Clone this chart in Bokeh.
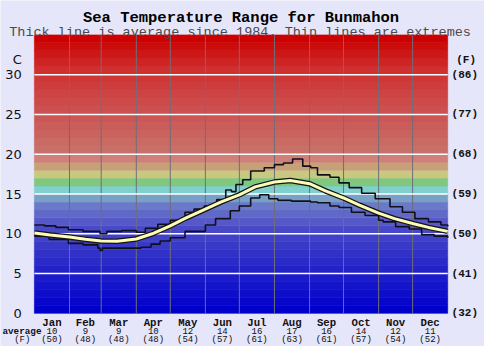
from bokeh.plotting import figure
from bokeh.models import Range1d
from bokeh.core.properties import value
from bokeh.embed import file_html
from bokeh.resources import INLINE

# ---------------- data ----------------
month_names = ["Jan", "Feb", "Mar", "Apr", "May", "Jun", "Jul", "Aug", "Sep", "Oct", "Nov", "Dec"]
month_avg_c = ["10", "9", "9", "10", "12", "14", "16", "17", "16", "14", "12", "11"]
month_avg_f = ["(50)", "(48)", "(48)", "(48)", "(54)", "(57)", "(61)", "(63)", "(61)", "(57)", "(54)", "(52)"]
month_starts = [0, 31, 59, 90, 120, 151, 181, 212, 243, 273, 304, 334, 365]

c_ticks = [0, 5, 10, 15, 20, 25, 30]
f_labels = ["(32)", "(41)", "(50)", "(59)", "(68)", "(77)", "(86)"]

avg_days = [0, 14, 31, 45, 59, 73, 90, 104, 120, 134, 151, 165, 181, 195, 212, 226,
            243, 257, 273, 287, 304, 318, 334, 348, 365]
avg_vals = [10.1, 9.85, 9.6, 9.3, 9.1, 9.05, 9.35, 10.0, 11.0, 12.0, 13.1, 14.0, 14.9, 15.9,
            16.5, 16.7, 16.3, 15.4, 14.5, 13.6, 12.6, 11.9, 11.3, 10.8, 10.3]

max_days = [0, 9, 19, 30, 43, 58, 64, 77, 90, 98, 109, 120, 133, 141, 150, 161, 169, 174,
            178, 184, 191, 203, 212, 220, 228, 237, 244, 250, 261, 269, 278, 289, 301, 314,
            325, 336, 348, 359, 365]
max_vals = [11.1, 11.0, 10.8, 10.5, 10.3, 10.0, 10.3, 10.4, 10.2, 10.7, 11.2, 11.7, 12.7, 13.1,
            13.5, 14.3, 15.5, 15.3, 16.2, 16.8, 17.9, 18.3, 18.7, 18.9, 19.4, 18.5, 18.3, 17.4,
            17.1, 16.4, 15.8, 15.1, 14.4, 13.4, 12.7, 11.9, 11.5, 11.1, 10.9]

min_days = [0, 13, 30, 43, 56, 58, 60, 64, 94, 103, 111, 120, 133, 151, 160, 173, 181, 191,
            199, 207, 215, 227, 244, 250, 261, 269, 280, 292, 304, 308, 319, 331, 342, 353, 365]
min_vals = [9.7, 9.3, 8.8, 8.6, 8.2, 7.9, 8.2, 8.2, 8.3, 8.7, 9.1, 9.5, 10.3, 11.1, 11.9, 12.9,
            13.5, 14.5, 14.9, 14.4, 14.2, 14.1, 14.0, 13.9, 13.5, 13.3, 12.7, 12.3, 11.7, 11.5,
            10.9, 10.6, 9.9, 9.7, 9.5]

# ---------------- layout helpers (reference pixel -> data) ----------------
W, H = 484, 346
SX, SY = W / 500, H / 362
REF_L, REF_R, REF_T, REF_B = 35, 462, 36, 327.3   # plot area in reference pixels
XMAX, YMAX = 365, 35


def X(rx):
    return (rx - REF_L) * XMAX / (REF_R - REF_L)


def Y(ry):
    return (REF_B - ry) * YMAX / (REF_B - REF_T)


def lerp_color(t):
    anchors = [(0, (0, 0, 204)), (5, (34, 34, 200)), (10, (72, 72, 200)), (11, (86, 88, 200)),
               (13, (106, 122, 200)), (14, (122, 160, 200)), (15, (128, 208, 208)),
               (16, (128, 200, 128)), (17, (200, 200, 128)), (18, (200, 160, 120)),
               (19, (208, 128, 120)), (20, (200, 112, 104)), (25, (204, 80, 80)),
               (30, (208, 48, 48)), (34, (204, 0, 0))]
    for (a, ca), (b, cb) in zip(anchors[:-1], anchors[1:]):
        if a <= t <= b:
            f = (t - a) / (b - a)
            c = [round(ca[i] + (cb[i] - ca[i]) * f) for i in range(3)]
            return "#%02x%02x%02x" % tuple(c)
    return "#cc0000"


BG = "#e6e6fa"
MONO = "Liberation Mono"
SANS = "DejaVu Sans"

p = figure(width=W, height=H, x_range=Range1d(X(0), X(500)), y_range=Range1d(Y(362), Y(0)),
           output_backend="svg", toolbar_location=None,
           x_axis_location=None, y_axis_location=None,
           min_border_left=0, min_border_right=0, min_border_top=0, min_border_bottom=0)
p.background_fill_color = BG
p.border_fill_color = BG
p.outline_line_color = None
p.grid.visible = False

# temperature bands
bands = list(range(YMAX))
cols = [lerp_color(b) for b in bands]
p.quad(left=0, right=XMAX, bottom=bands, top=[b + 1 for b in bands],
       fill_color=cols, line_color=cols, line_width=0.6)

# month dividers
inner = month_starts[1:-1]
p.segment(x0=inner, x1=inner, y0=0, y1=YMAX, line_color="#6e6e7a", line_width=1)
# white gridlines
gl = c_ticks[1:]
p.segment(x0=0, x1=XMAX, y0=gl, y1=gl, line_color="white", line_width=1.6)

# extremes
p.step(max_days, max_vals, mode="after", line_color="#101018", line_width=1.6)
p.step(min_days, min_vals, mode="after", line_color="#101018", line_width=1.6)
# average
p.line(avg_days, avg_vals, line_color="#141414", line_width=5.5)
p.line(avg_days, avg_vals, line_color="#fcfcb8", line_width=3)


def lab(xs, ys, texts, size, font=MONO, bold=False, align="center", baseline="alphabetic",
        color="#111111"):
    p.text(x=xs, y=ys, text=texts, text_font=value(font), text_font_size=f"{size}px",
           text_font_style="bold" if bold else "normal", text_align=align,
           text_baseline=baseline, text_color=color)


# titles
lab([X(248.5)], [Y(18)], ["Sea Temperature Range for Bunmahon"], 15.5, bold=True,
    color="#000000")
lab([X(247.5)], [Y(33)], ["Thick line is average since 1984. Thin lines are extremes"], 13.5,
    color="#4a4a4a")

# left (C) and right (F) labels
lab([X(22)] * len(c_ticks), c_ticks, [str(t) for t in c_ticks], 13, font=SANS,
    align="right", baseline="middle")
lab([X(466)] * len(c_ticks), c_ticks, f_labels, 11, bold=True, align="left",
    baseline="middle")
lab([X(22)], [Y(62)], ["C"], 13, font=SANS, align="right", baseline="middle")
lab([X(481)], [Y(62.5)], ["(F)"], 11, bold=True, baseline="middle")

# bottom month labels
centers = [(month_starts[i] + month_starts[i + 1]) / 2 for i in range(12)]
lab(centers, [Y(337.5)] * 12, month_names, 10.7, bold=True)
lab(centers, [Y(346)] * 12, month_avg_c, 9)
lab(centers, [Y(355)] * 12, month_avg_f, 9)
lab([X(2)], [Y(346)], ["average"], 9.3, bold=True, align="left")
lab([X(22.5)], [Y(355)], ["(F)"], 9)

open("out.html", "w").write(file_html(p, INLINE))
